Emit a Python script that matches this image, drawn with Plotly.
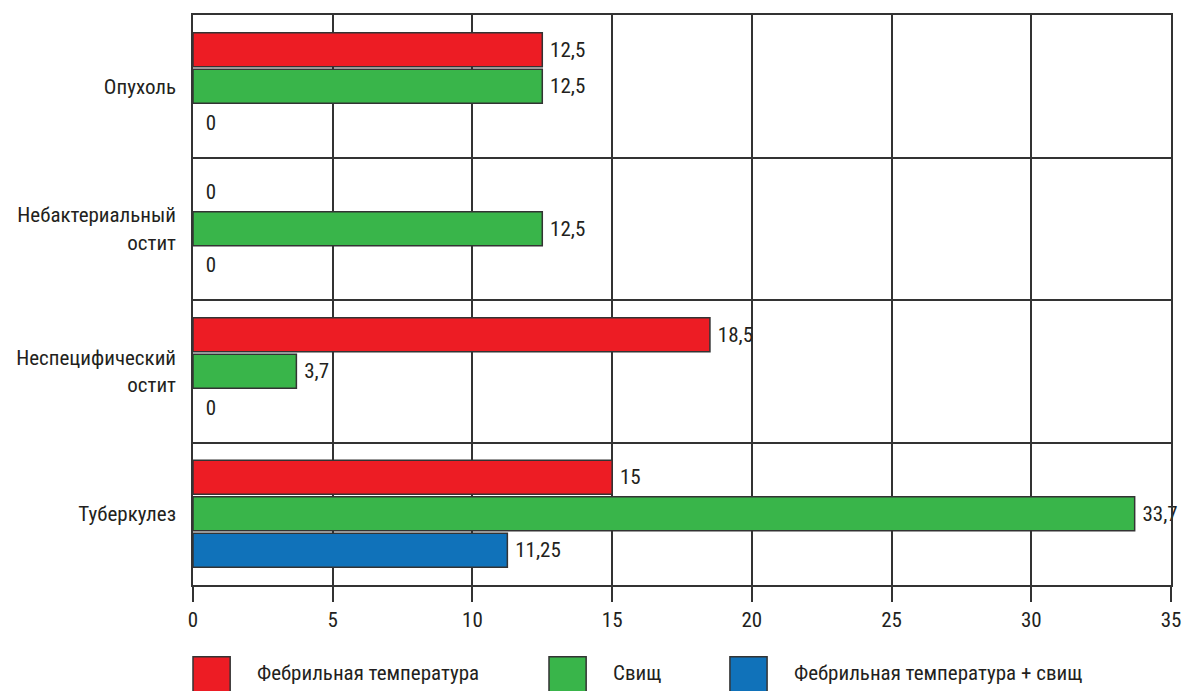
import plotly.graph_objects as go

categories = ["Опухоль", "Небактериальный<br>остит", "Неспецифический<br>остит", "Туберкулез"]
series_names = ["Фебрильная температура", "Свищ", "Фебрильная температура + свищ"]
febrile = [12.5, 0, 18.5, 15]
fistula = [12.5, 12.5, 3.7, 33.7]
febrile_fistula = [0, 0, 0, 11.25]
x_ticks = [0, 5, 10, 15, 20, 25, 30, 35]

colors = ["#ED1C24", "#39B54A", "#1072BA"]
FONT = "Liberation Sans Narrow, Roboto Condensed, Arial Narrow, Roboto, sans-serif"
TXT = "#231F20"
FS = 21

def fmt(v):
    s = ("%g" % v).replace(".", ",")
    return ("\u00a0\u00a0" if v == 0 else "\u00a0") + s

fig = go.Figure()
for name, vals, col in zip(series_names, [febrile, fistula, febrile_fistula], colors):
    fig.add_trace(go.Bar(
        y=categories, x=vals, name=name, orientation="h",
        marker=dict(color=col, line=dict(color="#333333",
                                         width=[0 if v == 0 else 1.5 for v in vals])),
        text=[fmt(v) for v in vals], textposition="outside",
        textfont=dict(family=FONT, size=FS, color=TXT),
        cliponaxis=False, showlegend=False,
    ))

fig.update_layout(
    width=1193, height=691,
    margin=dict(l=193, r=17, t=15, b=106),
    paper_bgcolor="white", plot_bgcolor="white",
    barmode="group", bargap=0.23, bargroupgap=0.07,
    font=dict(family=FONT, size=FS, color=TXT),
    showlegend=False,
)
fig.update_xaxes(
    range=[0, 35], tickvals=x_ticks, ticktext=[str(t) for t in x_ticks],
    showgrid=True, gridcolor="#333333", gridwidth=1.5,
    showline=True, linecolor="#333333", linewidth=1.5, mirror=True,
    ticks="outside", ticklen=15, tickcolor="#333333", tickwidth=1.5,
    zeroline=False, tickfont=dict(family=FONT, size=FS, color=TXT),
)
fig.update_yaxes(
    autorange="reversed", tickson="boundaries",
    showgrid=True, gridcolor="#333333", gridwidth=1.5,
    showline=True, linecolor="#333333", linewidth=1.5, mirror=True,
    ticks="", ticklabelstandoff=11,
    tickfont=dict(family=FONT, size=FS, color=TXT),
)

# Legend drawn as swatches + labels below the plot
legend_x = [0.0, 0.364, 0.549]  # paper x of swatch left edges
sw_w = 0.038
for lx, name, col in zip(legend_x, series_names, colors):
    fig.add_shape(type="rect", xref="paper", yref="paper",
                  x0=lx, x1=lx + sw_w, y0=-0.19, y1=-0.126,
                  fillcolor=col, line=dict(color="#333333", width=1.5))
    fig.add_annotation(xref="paper", yref="paper", x=lx + sw_w + 0.025, y=-0.155,
                       text=name, showarrow=False, xanchor="left", yanchor="middle",
                       font=dict(family=FONT, size=FS, color=TXT))

fig.write_html("out.html")
